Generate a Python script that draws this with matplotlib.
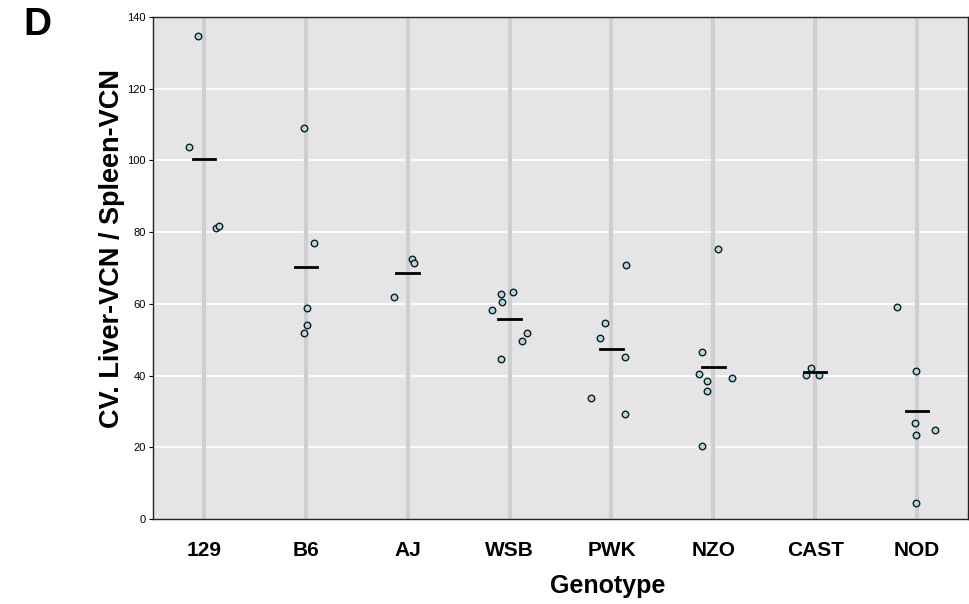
import numpy as np
import matplotlib.pyplot as plt

plt.rcParams['font.family'] = ['Liberation Sans', 'DejaVu Sans']

# Genotype groups
genotypes = ['129', 'B6', 'AJ', 'WSB', 'PWK', 'NZO', 'CAST', 'NOD']

# CV values per genotype and small horizontal jitter
values = [
    [134.8, 103.8, 81.2, 81.8],
    [108.9, 77.1, 58.9, 54.2, 51.8],
    [61.8, 72.6, 71.5],
    [58.3, 62.7, 60.4, 63.3, 51.8, 49.7, 44.6],
    [70.8, 54.7, 50.4, 45.2, 33.8, 29.3],
    [75.2, 46.5, 40.5, 38.4, 35.6, 39.4, 20.5],
    [42.0, 40.3, 40.3],
    [59.0, 41.3, 26.8, 23.5, 24.9, 4.4],
]
jitter = [
    [-0.055, -0.15, 0.12, 0.15],
    [-0.02, 0.085, 0.015, 0.01, -0.02],
    [-0.13, 0.046, 0.066],
    [-0.175, -0.08, -0.075, 0.03, 0.17, 0.12, -0.08],
    [0.14, -0.06, -0.11, 0.13, -0.2, 0.13],
    [0.046, -0.115, -0.14, -0.06, -0.06, 0.18, -0.11],
    [-0.04, -0.095, 0.04],
    [-0.2, -0.01, -0.02, -0.01, 0.18, -0.01],
]

fig = plt.figure(figsize=(9.7, 6.04), dpi=100)
ax = fig.add_axes([0.1577, 0.1407, 0.8403, 0.8312])
ax.set_facecolor('#e5e5e5')

# category guide lines and horizontal grid
for i in range(len(genotypes)):
    ax.axvline(i, color='#cfcfcf', linewidth=3.0, zorder=1)
for yv in range(20, 140, 20):
    ax.axhline(yv, color='white', linewidth=1.2, zorder=0.5)

for i, (vals, jit) in enumerate(zip(values, jitter)):
    xs = i + np.array(jit)
    ax.scatter(xs, vals, s=22, facecolor='#a9dbe8', edgecolor='#1a1a1a',
               linewidth=1.0, zorder=3)
    m = np.mean(vals)
    ax.plot([i - 0.11, i + 0.11], [m, m], color='black', linewidth=2.0, zorder=4)

ax.set_xlim(-0.5, 7.5)
ax.set_ylim(0, 140)
ax.set_xticks(range(len(genotypes)))
ax.set_xticklabels(genotypes, fontsize=15, fontweight='bold')
ax.set_yticks(range(0, 141, 20))
ax.tick_params(axis='y', labelsize=8, length=3, width=0.8, pad=2)
ax.tick_params(axis='x', length=0, pad=16)

for s in ax.spines.values():
    s.set_color('#222222')
    s.set_linewidth(1.0)

# axis titles sit off-centre in the reference, so place them on the figure
fig.text(608 / 970, 1 - 586 / 604, 'Genotype', fontsize=18, fontweight='bold',
         ha='center', va='center')
fig.text(112 / 970, 1 - 248 / 604, 'CV. Liver-VCN / Spleen-VCN', fontsize=19.5,
         fontweight='bold', rotation=90, ha='center', va='center')

fig.text(0.039, 0.958, 'D', fontsize=28, fontweight='bold', va='center', ha='center')

fig.savefig('out.png', dpi=100)
